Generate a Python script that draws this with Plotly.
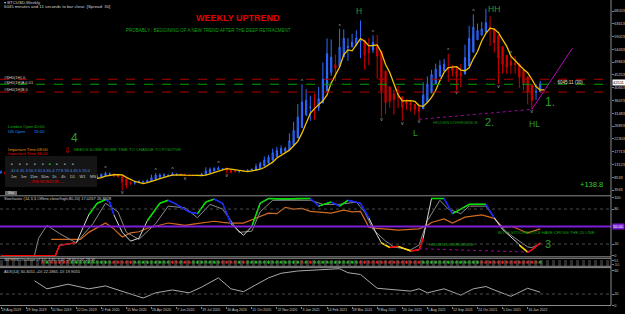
import plotly.graph_objects as go
from plotly.subplots import make_subplots
import pandas as pd

# ---------------- data (weekly BTCUSD) ----------------
first_week = "2019-08-18"
opens = [10300, 10150, 9600, 10400, 10350, 10000, 8050, 8150, 8300, 8200,
         9550, 9200, 8800, 8450, 7150, 7500, 7350, 7100, 7150, 7300,
         7350, 8150, 8900, 8350, 9350, 9850, 9900, 9650, 8550, 8900,
         5350, 5800, 6400, 6850, 6900, 7100, 7550, 8900, 9550, 9700,
         8750, 9450, 9700, 9350, 9300, 9000, 9050, 9250, 9150, 9950,
         11100, 11700, 11900, 11650, 11700, 10250, 10300, 11050, 10700, 10550,
         11300, 11350, 13100, 13750, 15500, 16050, 18650, 18200, 19150, 19250,
         23850, 26500, 33000, 38200, 35800, 32300, 34300, 39250, 48600, 57500,
         46200, 48900, 61200, 57400, 55800, 57100, 60100, 56200, 49100, 56600,
         58200, 46400, 34700, 34600, 35800, 39000, 35500, 34700, 35300, 34300,
         31500, 34000, 41500, 44600, 47100, 48900, 48800, 49900, 45200, 48300,
         42700, 47700, 55000, 61500, 61300, 61800, 61500, 64200, 59700, 54800,
         49400, 49400, 46700, 50800, 47700, 41800, 43100, 35100, 37700, 41400]
highs = [10950, 10600, 10900, 10550, 10400, 10100, 8500, 8650, 8450, 10500,
         9800, 9500, 9100, 8500, 7850, 7750, 7550, 7450, 7700, 7550,
         8450, 9200, 8950, 9550, 9850, 10500, 10250, 9950, 9200, 8900,
         6900, 6950, 7300, 7450, 7300, 7750, 9450, 10000, 9950, 9950,
         9600, 10400, 9950, 9800, 9800, 9350, 9450, 9350, 10100, 12100,
         12000, 12100, 12450, 11750, 12050, 10600, 11100, 11050, 11000, 11450,
         11700, 13350, 14100, 15950, 16500, 18800, 19450, 19900, 19400, 24300,
         28400, 34800, 41950, 40100, 37800, 38500, 40950, 49700, 58350, 58000,
         52600, 61800, 61600, 58500, 60000, 61300, 64800, 57500, 58500, 59500,
         59600, 46700, 40800, 39500, 40000, 41300, 35700, 36600, 35900, 34800,
         34500, 42600, 44700, 47100, 49300, 50500, 51000, 52900, 48800, 48300,
         49200, 56100, 62900, 67000, 63700, 64300, 69000, 66300, 59800, 59200,
         51900, 50200, 51800, 52000, 47900, 44400, 43500, 38900, 41900, 43100]
lows = [9800, 9350, 9550, 9900, 9600, 7900, 7750, 7800, 7950, 7300,
        8900, 8700, 8400, 6800, 6550, 7100, 7000, 6450, 7100, 6850,
        7350, 8100, 8300, 8300, 9150, 9750, 9300, 8450, 8450, 3850,
        4450, 5650, 5850, 6650, 6450, 6750, 7550, 8700, 8150, 8800,
        8650, 9350, 9100, 9250, 8900, 8950, 9050, 9050, 9100, 9900,
        10650, 11150, 11400, 11150, 9900, 9900, 10250, 10150, 10400, 10550,
        11200, 11350, 12800, 13250, 14850, 15800, 16200, 18100, 17600, 19000,
        22400, 26100, 29000, 30400, 28800, 29200, 32300, 37400, 47000, 44900,
        43000, 48900, 53300, 50300, 55400, 55500, 51300, 47100, 48800, 53100,
        43900, 30000, 31200, 33500, 31100, 33400, 28800, 32700, 32100, 31000,
        29300, 34000, 37300, 42900, 43900, 46300, 46700, 42800, 44700, 39600,
        40800, 47100, 53900, 59700, 57800, 59400, 61400, 55600, 53300, 42000,
        45700, 45600, 45600, 45700, 40600, 39700, 34700, 32900, 36300, 41200]
closes = [10150, 9600, 10400, 10350, 10000, 8050, 8150, 8300, 8200, 9550,
          9200, 8800, 8450, 7150, 7500, 7350, 7100, 7150, 7300, 7350,
          8150, 8900, 8350, 9350, 9850, 9900, 9650, 8550, 8900, 5350,
          5800, 6400, 6850, 6900, 7100, 7550, 8900, 9550, 9700, 8750,
          9450, 9700, 9350, 9300, 9000, 9050, 9250, 9150, 9950, 11100,
          11700, 11900, 11650, 11700, 10250, 10300, 11050, 10700, 10550, 11300,
          11350, 13100, 13750, 15500, 16050, 18650, 18200, 19150, 19250, 23850,
          26500, 33000, 38200, 35800, 32300, 34300, 39250, 48600, 57500, 46200,
          48900, 61200, 57400, 55800, 57100, 60100, 56200, 49100, 56600, 58200,
          46400, 34700, 34600, 35800, 39000, 35500, 34700, 35300, 34300, 31500,
          34000, 41500, 44600, 47100, 48900, 48800, 49900, 45200, 48300, 42700,
          47700, 55000, 61500, 61300, 61800, 61500, 64200, 59700, 54800, 49400,
          49400, 46700, 50800, 47700, 41800, 43100, 35100, 37700, 41400, 42511]
weeks = pd.date_range(first_week, periods=len(closes), freq="7D")

price_ticks = [3943, 8533, 13123, 17713, 22303, 26893, 31483, 36073,
               40663, 45253, 49843, 54433, 59023, 63613, 68203]
price_tick_text = [str(v) for v in price_ticks]

date_ticks = ["2019-08-18", "2019-09-29", "2019-11-10", "2019-12-22", "2020-02-02",
              "2020-03-15", "2020-04-26", "2020-06-07", "2020-07-19", "2020-08-30",
              "2020-10-11", "2020-11-22", "2021-01-03", "2021-02-14", "2021-03-28",
              "2021-05-09", "2021-06-20", "2021-08-01", "2021-09-12", "2021-10-24",
              "2021-12-05", "2022-01-16"]
date_tick_text = ["18 Aug 2019", "29 Sep 2019", "10 Nov 2019", "22 Dec 2019", "2 Feb 2020",
                  "15 Mar 2020", "26 Apr 2020", "7 Jun 2020", "19 Jul 2020", "30 Aug 2020",
                  "11 Oct 2020", "22 Nov 2020", "3 Jan 2021", "14 Feb 2021", "28 Mar 2021",
                  "9 May 2021", "20 Jun 2021", "1 Aug 2021", "12 Sep 2021", "24 Oct 2021",
                  "5 Dec 2021", "16 Jan 2022"]

# swing markers (week indices)
fractal_up = [25, 37, 41, 52, 72, 81, 89, 107, 113, 122]
fractal_dn = [29, 44, 54, 91, 96, 100, 109, 119, 127]

# horizontal levels in main window
level_prices = [43700, 41900, 39100]
level_colors = ["#b00000", "#00a000", "#b00000"]

# trend line from the higher low
trend_end_date = "2022-04-01"
trend_end_price = 54900

# Stochastic main line (week index, value)
stoch_k_w = [0, 13, 14, 18, 21, 23, 25, 26, 27, 29, 31, 33, 35, 38, 40, 42, 45, 47, 49, 51,
             53, 55, 58, 60, 62, 64, 68, 71, 74, 76, 79, 81, 83, 86, 88, 90, 91, 93, 95, 98,
             100, 101, 103, 106, 108, 110, 112, 116, 118, 120, 122, 124, 126, 127, 129]
stoch_k_v = [0, 0, 18, 22, 70, 90, 96, 92, 70, 40, 25, 30, 60, 90, 95, 88, 75, 72, 92, 97,
             90, 55, 35, 50, 90, 98, 97, 98, 98, 85, 92, 85, 95, 90, 65, 35, 22, 14, 16, 8,
             10, 30, 98, 98, 72, 80, 88, 88, 65, 45, 32, 18, 6, 10, 22]
# Stochastic signal line
stoch_d_w = [8, 9, 11, 14, 18, 22, 25, 28, 30, 33, 37, 40, 44, 47, 50, 53, 57, 60, 62, 65,
             74, 77, 81, 85, 87, 89, 92, 94, 98, 100, 102, 105, 107, 110, 112, 116, 119, 121,
             123, 126, 127, 129]
stoch_d_v = [0, 30, 52, 38, 22, 55, 90, 75, 40, 28, 55, 85, 82, 65, 88, 80, 40, 42, 75, 95,
             95, 88, 88, 92, 75, 45, 25, 15, 10, 18, 60, 95, 80, 72, 85, 85, 55, 40,
             30, 15, 14, 20]
# slow (orange) line
rsi_w = [12, 14, 17, 19, 21, 24, 25, 27, 29, 31, 33, 35, 38, 40, 42, 44, 46, 48, 51, 53,
         55, 58, 61, 64, 66, 68, 70, 72, 74, 76, 79, 82, 84, 86, 88, 90, 91, 93, 95, 98,
         100, 102, 103, 106, 108, 111, 113, 115, 118, 120, 122, 123, 126, 128, 129]
rsi_v = [28, 28, 27, 28, 40, 52, 56, 46, 32, 39, 41, 47, 52, 56, 54, 52, 54, 56, 59, 57,
         56, 56, 65, 73, 72, 83, 80, 81, 76, 75, 73, 78, 75, 76, 49, 47, 46, 45, 44, 45,
         46, 52, 57, 63, 56, 66, 68, 70, 64, 49, 50, 48, 39, 44, 46]
# ADX line
adx_w = [8, 11, 16, 21, 25, 29, 34, 37, 41, 45, 48, 52, 55, 58, 64, 67, 71, 76, 81, 83,
         86, 90, 94, 98, 100, 102, 106, 110, 113, 116, 118, 122, 126, 129]
adx_v = [43, 29, 37, 29, 34, 25, 13, 22, 27, 22, 32, 48, 29, 24, 48, 56, 60, 62, 64, 57,
         54, 30, 27, 25, 29, 22, 29, 18, 29, 33, 27, 16, 30, 23]
# multi-timeframe oscillator dots: r = red, g = green, . = none
mtf_dots = (".........." "rgrrrrrg" "gggggggggr" "rrrr" "gggggggggrrgrrggggg"
            "ggrrrrgr" "gggggggggggggrgrggggggggggg" "rrrrrrrrrrrrrrr"
            "gggggggggggggg" "rrrrrrrrrrrrrr" "g")

# ---------------- geometry helpers (pixels of the 625x314 page) ----------------
W, H = 625, 314
PX_WEEK, X0 = 4.18, 1.0
RIGHT = 611


def px2date(x):
    return pd.Timestamp(first_week) + pd.Timedelta(days=(x - X0) / PX_WEEK * 7)


def fx(x):
    return x / W


def fy(y):
    return 1 - y / H


P_REF, P_REF_Y, P_PX = 68203, 11, 359

fig = make_subplots(rows=4, cols=1, shared_xaxes=True, vertical_spacing=0.0)

# Heiken-Ashi style bodies with real wicks
ha_close = [(o + h + l + c) / 4 for o, h, l, c in zip(opens, highs, lows, closes)]
ha_open = [(opens[0] + closes[0]) / 2]
for i in range(1, len(closes)):
    ha_open.append((ha_open[-1] + ha_close[i - 1]) / 2)

fig.add_trace(go.Candlestick(
    x=weeks, open=ha_open, high=highs, low=lows, close=ha_close,
    increasing=dict(line=dict(color="#2f6cff", width=1), fillcolor="#0a1cff"),
    decreasing=dict(line=dict(color="#d40000", width=1), fillcolor="#b00000"),
    whiskerwidth=0, showlegend=False, hoverinfo="skip"), row=1, col=1)

ma = pd.Series(closes).rolling(5).mean()
fig.add_trace(go.Scatter(x=weeks + pd.Timedelta(days=7), y=ma, mode="lines",
                         line=dict(color="#f2c200", width=1.3), showlegend=False), row=1, col=1)

fig.add_trace(go.Scatter(x=[weeks[i] for i in fractal_up], y=[highs[i] for i in fractal_up],
                         mode="text", text=["^"] * len(fractal_up), textposition="top center",
                         textfont=dict(size=5, color="#b0b0b0"), showlegend=False), row=1, col=1)
fig.add_trace(go.Scatter(x=[weeks[i] for i in fractal_dn], y=[lows[i] for i in fractal_dn],
                         mode="text", text=["v"] * len(fractal_dn), textposition="bottom center",
                         textfont=dict(size=5, color="#b0b0b0"), showlegend=False), row=1, col=1)

# hidden divergence (price) and trend line
fig.add_trace(go.Scatter(x=[weeks[100], weeks[127]], y=[lows[100], lows[127]], mode="lines",
                         line=dict(color="#a000a0", width=1, dash="dot"), showlegend=False), row=1, col=1)
fig.add_trace(go.Scatter(x=[weeks[127], pd.Timestamp(trend_end_date)], y=[lows[127], trend_end_price],
                         mode="lines", line=dict(color="#c000c0", width=1), showlegend=False), row=1, col=1)

# ---------------- stochastic window ----------------
kx = [weeks[i] for i in stoch_k_w]
fig.add_trace(go.Scatter(x=[weeks[i] for i in rsi_w], y=rsi_v, mode="lines",
                         line=dict(color="#d2691e", width=1.2), showlegend=False), row=2, col=1)
fig.add_trace(go.Scatter(x=[weeks[i] for i in stoch_d_w], y=stoch_d_v, mode="lines",
                         line=dict(color="#8a8a8a", width=1), showlegend=False), row=2, col=1)
fig.add_trace(go.Scatter(x=kx, y=stoch_k_v, mode="lines",
                         line=dict(color="#d8d8d8", width=1), showlegend=False), row=2, col=1)
segs = {"#00e000": ([], []), "#1020ff": ([], []), "#ffd700": ([], []), "#ff0000": ([], [])}
for a in range(len(kx) - 1):
    v0, v1 = stoch_k_v[a], stoch_k_v[a + 1]
    m = (v0 + v1) / 2
    if m >= 70:
        c = "#00e000" if v1 >= v0 - 2 else "#1020ff"
    elif m <= 22:
        c = "#ffd700" if v1 < v0 - 1 else "#ff0000"
    else:
        continue
    segs[c][0].extend([kx[a], kx[a + 1], None])
    segs[c][1].extend([v0, v1, None])
for c, (sx, sy) in segs.items():
    fig.add_trace(go.Scatter(x=sx, y=sy, mode="lines", line=dict(color=c, width=1.5),
                             showlegend=False), row=2, col=1)
fig.add_trace(go.Scatter(x=[weeks[100], weeks[127]], y=[12, 6], mode="lines",
                         line=dict(color="#a000a0", width=1, dash="dot"), showlegend=False), row=2, col=1)

# ---------------- oscillator dots ----------------
dot_idx = [i for i, ch in enumerate(mtf_dots) if ch != "."]
dot_col = ["#ff2020" if mtf_dots[i] == "r" else "#20d020" for i in dot_idx]
fig.add_trace(go.Scatter(x=[weeks[i] for i in dot_idx], y=[0] * len(dot_idx), mode="markers",
                         marker=dict(symbol="asterisk-open", size=3, color=dot_col,
                                     line=dict(color=dot_col, width=0.8)),
                         showlegend=False), row=3, col=1)

# ---------------- ADX ----------------
fig.add_trace(go.Scatter(x=[weeks[i] for i in adx_w], y=adx_v, mode="lines",
                         line=dict(color="#a8a8a8", width=1), showlegend=False), row=4, col=1)

# ---------------- layout ----------------
FONT = "Liberation Sans, Arial"
tick_font = dict(family=FONT, size=3.8, color="#c8c8c8")
date_font = dict(family=FONT, size=3.5, color="#c8c8c8")
xr = [px2date(0), px2date(RIGHT)]
for k in range(1, 5):
    name = "xaxis" if k == 1 else f"xaxis{k}"
    fig.layout[name].update(domain=[0, RIGHT / W], range=xr, showgrid=False, zeroline=False,
                            showline=False, rangeslider=dict(visible=False), automargin=False)
fig.layout.xaxis4.update(tickvals=pd.to_datetime(date_ticks), ticktext=date_tick_text,
                         ticklabelposition="outside right", tickfont=date_font, tickangle=0,
                         ticks="outside", ticklen=2, tickcolor="#808080", showticklabels=True)

common_y = dict(side="right", showgrid=False, zeroline=False, tickfont=tick_font,
                ticks="outside", ticklen=1.5, tickcolor="#808080", showline=False,
                automargin=False)
fig.layout.yaxis.update(common_y, domain=[fy(195.5), fy(1)],
                        range=[P_REF - (195.5 - P_REF_Y) * P_PX, P_REF + (P_REF_Y - 1) * P_PX],
                        tickvals=price_ticks, ticktext=price_tick_text)
fig.layout.yaxis2.update(common_y, domain=[fy(256.5), fy(196.5)], range=[-1.4, 101.5],
                         tickvals=[0, 20, 80, 100], ticktext=["0", "20", "80", "100"])
fig.layout.yaxis3.update(common_y, domain=[fy(266), fy(258.5)], range=[-4, 4],
                         tickvals=[1.6, -2.9], ticktext=["3.0", "-3.0"],
                         tickfont=dict(family=FONT, size=3, color="#c8c8c8"))
fig.layout.yaxis4.update(common_y, domain=[fy(305.5), fy(268)], range=[0, 65.2],
                         tickvals=[0, 20, 60], ticktext=["0", "20", "60"])

shapes = []
for p, c in zip(level_prices, level_colors):
    shapes.append(dict(type="line", xref="paper", x0=0, x1=fx(RIGHT), yref="y", y0=p, y1=p,
                       line=dict(color=c, width=1, dash="dash")))
shapes.append(dict(type="line", xref="paper", x0=0, x1=fx(RIGHT), yref="y2", y0=50, y1=50,
                   line=dict(color="#7b1fd6", width=2)))
for lv in (20, 80):
    shapes.append(dict(type="line", xref="paper", x0=0, x1=fx(RIGHT), yref="y2", y0=lv, y1=lv,
                       line=dict(color="#4a4a4a", width=1, dash="dot")))
for lv in (1.33, -0.8, -2.9):
    shapes.append(dict(type="line", xref="paper", x0=0, x1=fx(RIGHT), yref="y3", y0=lv, y1=lv,
                       line=dict(color="#5a5a5a", width=1, dash="dot")))
shapes.append(dict(type="line", xref="paper", x0=0, x1=fx(RIGHT), yref="y4", y0=20, y1=20,
                   line=dict(color="#4a4a4a", width=1, dash="dot")))
for yy in (195.8, 256.8, 258.3, 266.3, 267.6, 305.5):
    shapes.append(dict(type="line", xref="paper", yref="paper", x0=0, x1=fx(RIGHT),
                       y0=fy(yy), y1=fy(yy), line=dict(color="#8a8a8a", width=1)))
shapes.append(dict(type="line", xref="paper", yref="paper", x0=fx(RIGHT), x1=fx(RIGHT),
                   y0=fy(305.5), y1=1, line=dict(color="#8a8a8a", width=1)))
# RSI monitor panel and small button
shapes.append(dict(type="rect", xref="paper", yref="paper", x0=fx(5), x1=fx(97), y0=fy(187),
                   y1=fy(156), fillcolor="#151515", line=dict(width=0), layer="above"))
shapes.append(dict(type="rect", xref="paper", yref="paper", x0=fx(5), x1=fx(17), y0=fy(195),
                   y1=fy(191), fillcolor="#6a6a6a", line=dict(width=0), layer="above"))

anns = []


def ann(text, x, y, size, color, xanchor="left", yanchor="middle", **kw):
    anns.append(dict(text=text, x=fx(x), y=fy(y), xref="paper", yref="paper", showarrow=False,
                     xanchor=xanchor, yanchor=yanchor, font=dict(family=FONT, size=size, color=color),
                     **kw))


ann("▾ BTCUSD,Weekly", 2, 2.5, 4.3, "#d0d0d0")
ann("6045 minutes and 11 seconds to bar close. [Spread: 30]", 2, 6.2, 4.3, "#d0d0d0")
ann("<b>WEEKLY UPTREND</b>", 238, 18.3, 9, "#e00000", xanchor="center")
ann("PROBABLY : BEGGINING OF A NEW TREND AFTER THE DEEP RETRACMENT", 209, 30.8, 4.5,
    "#12a012", xanchor="center")
ann("#SH0(1H) 0", 2, 77.7, 4, "#d0d0d0")
ann("#SH0(1H)A 0.01", 2, 82.8, 4, "#d0d0d0")
ann("#SH0(1H)B 0", 2, 89.4, 4, "#d0d0d0")
ann("H", 359, 11, 8.5, "#2e9b2e", xanchor="center")
ann("HH", 494, 8.5, 8.5, "#2e9b2e", xanchor="center")
ann("L", 415, 132.5, 8.5, "#2e9b2e", xanchor="center")
ann("HL", 534, 123.5, 8.5, "#2e9b2e", xanchor="center")
ann("1.", 550, 102, 12, "#2e9b2e", xanchor="center")
ann("2.", 489, 122, 11, "#2e9b2e", xanchor="center")
ann("HIDDEN DIVERGENCE", 455, 122.3, 4.2, "#129012", xanchor="center")
ann("←6045:11 (30)", 551, 82.7, 4.5, "#e0e0e0")
ann("+138.8", 605, 184.5, 7.5, "#32cd32", xanchor="right")
ann("London Open:", 6, 126, 4.2, "#10b010")
ann("10:00", 32, 126, 4.2, "#10b010")
ann("US Open", 6, 131.7, 4.2, "#1e90ff")
ann("15:00", 32, 131.7, 4.2, "#1e90ff")
ann("4", 74, 138, 12, "#2e9b2e", xanchor="center")
ann("Important Time:08:00", 6, 149, 4.2, "#e08a00")
ann("Important Time:16:00", 6, 153.3, 4.2, "#e00000")
ann("⇩", 67.5, 150, 8, "#e00000", xanchor="center")
ann("NEEDS SOME  MORE TIME TO CHANGE TO POSITIVE", 72, 149.3, 4.2, "#12a012")
for i, xv in enumerate([11.7, 20, 27.3, 35, 42.7, 50, 57.3, 65.3, 73.3]):
    ann("■", xv, 164.3, 3, "#00e000" if i == 5 else "#9a9a9a", xanchor="center")
ann("41.6 41.3 50.3 61.6 65.4 77.8 59.4 45.5 55.0", 9, 170.7, 4, "#4a90e2")
ann("1m    5m   15m   30m   1h    4h    D1    W1    MN", 9, 176, 4, "#c8c8c8")
ann("--- RSI MONITOR ---", 45, 181.2, 4, "#e00000", xanchor="center")
ann("Wait", 11, 193, 3, "#e0e0e0", xanchor="center")
ann("Stochastic (14,3,3,Offline,close/high,80,20) 17.0267 26.8928", 2, 198.6, 4, "#d0d0d0")
ann("BOTH STOCHASTICS HAVE CROSS THE 20 LINE", 597, 232.3, 4.2, "#12a012", xanchor="right")
ann("HIDDEN DIVERGENCE", 451, 244, 4.2, "#12a012", xanchor="center")
ann("3", 548, 244, 11, "#2e9b2e", xanchor="center")
ann("3MTFRSI Oscillator v7.3.0 -3.40 -3.40 -28.40 0.00 -28.30", 2, 260.2, 3.6, "#d0d0d0")
ann("ADX(14) 30.3051 +DI 22.1865 -DI 19.9055", 2, 271.3, 4, "#d0d0d0")
# price and 50-level boxes on the right scale
anns.append(dict(text=str(closes[-1]), x=fx(RIGHT + 1), y=closes[-1], xref="paper", yref="y",
                 showarrow=False, xanchor="left", yanchor="middle", bgcolor="#ffffff",
                 borderpad=0, font=dict(family=FONT, size=4, color="#000000")))
anns.append(dict(text="50.00", x=fx(RIGHT + 1), y=50, xref="paper", yref="y2",
                 showarrow=False, xanchor="left", yanchor="middle", bgcolor="#7b1fd6",
                 borderpad=0, font=dict(family=FONT, size=4, color="#ffffff")))

fig.update_layout(width=W, height=H, margin=dict(l=0, r=0, t=0, b=0, autoexpand=False),
                  paper_bgcolor="#000000", plot_bgcolor="#000000", showlegend=False,
                  boxgap=0.6, shapes=shapes, annotations=anns,
                  font=dict(family=FONT, color="#c8c8c8"))
fig.write_html("out.html")
